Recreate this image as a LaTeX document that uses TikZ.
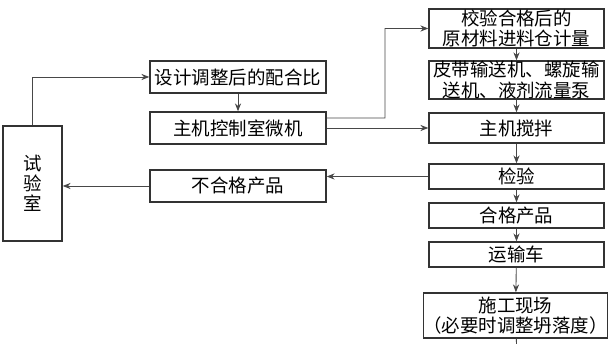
\documentclass[tikz,border=0pt]{standalone}
\usepackage{fontspec}
\setmainfont{Noto Sans CJK SC}
\usetikzlibrary{arrows.meta,calc}
\definecolor{boxgray}{HTML}{333333}
\definecolor{linegray}{HTML}{484848}

\begin{document}
\begin{tikzpicture}[>={Stealth[length=4.5pt,width=3.5pt]},
  font=\fontsize{10.5}{11.5}\selectfont,
  box/.style={draw=boxgray,line width=0.8pt,inner sep=0pt,align=center,
    minimum width=3.5cm,minimum height=0.5cm},
  flow/.style={->,draw=linegray,line width=0.5pt}]
  \useasboundingbox (0,0) rectangle (12.28,6.88);
  % laboratory
  \node[box,minimum width=1.18cm,minimum height=2.3cm] (lab) at (0.65,3.21) {试\\验\\室};
  % middle column
  \node[box,minimum width=3.52cm,minimum height=0.64cm] (mix) at (4.76,5.34) {设计调整后的配合比};
  \node[box,minimum width=3.52cm,minimum height=0.64cm] (pc) at (4.76,4.32) {主机控制室微机};
  \node[box,minimum width=3.52cm,minimum height=0.64cm] (reject) at (4.76,3.16) {不合格产品};
  % right column
  \node[box,minimum height=0.78cm] (meter) at (10.33,6.31) {校验合格后的\\原材料进料仓计量};
  \node[box,minimum height=0.76cm] (feed) at (10.33,5.28) {皮带输送机、螺旋输\\送机、液剂流量泵};
  \node[box,minimum height=0.6cm] (mixer) at (10.33,4.32) {主机搅拌};
  \node[box] (test) at (10.33,3.35) {检验};
  \node[box] (good) at (10.33,2.57) {合格产品};
  \node[box] (truck) at (10.33,1.79) {运输车};
  \node[box,minimum width=3.52cm,minimum height=0.9cm] (site) at (10.31,0.57)
    {施工现场\\（必要时调整坍落度）};
  \coordinate (bend) at (7.7,4.52);
  \coordinate (out) at (10.33,0);
  % connectors
  \draw[flow] (lab.north) |- (mix.west);
  \draw[flow] (mix) -- (pc);
  \draw[flow] ([yshift=0.2cm]pc.east) -- (bend) |- (meter.west);
  \draw[flow] (pc.east) -- (mixer.west);
  \draw[flow] (meter) -- (feed);
  \draw[flow] (feed) -- (mixer);
  \draw[flow] (mixer) -- (test);
  \draw[flow] (test) -- (good);
  \draw[flow] (good) -- (truck);
  \draw[flow] (truck) -- (site);
  \draw[flow,-] (site) -- (out);
  \draw[flow] (test.west) -- (test.west -| reject.east);
  \draw[flow] (reject.west) -- (reject.west -| lab.east);
\end{tikzpicture}
\end{document}
